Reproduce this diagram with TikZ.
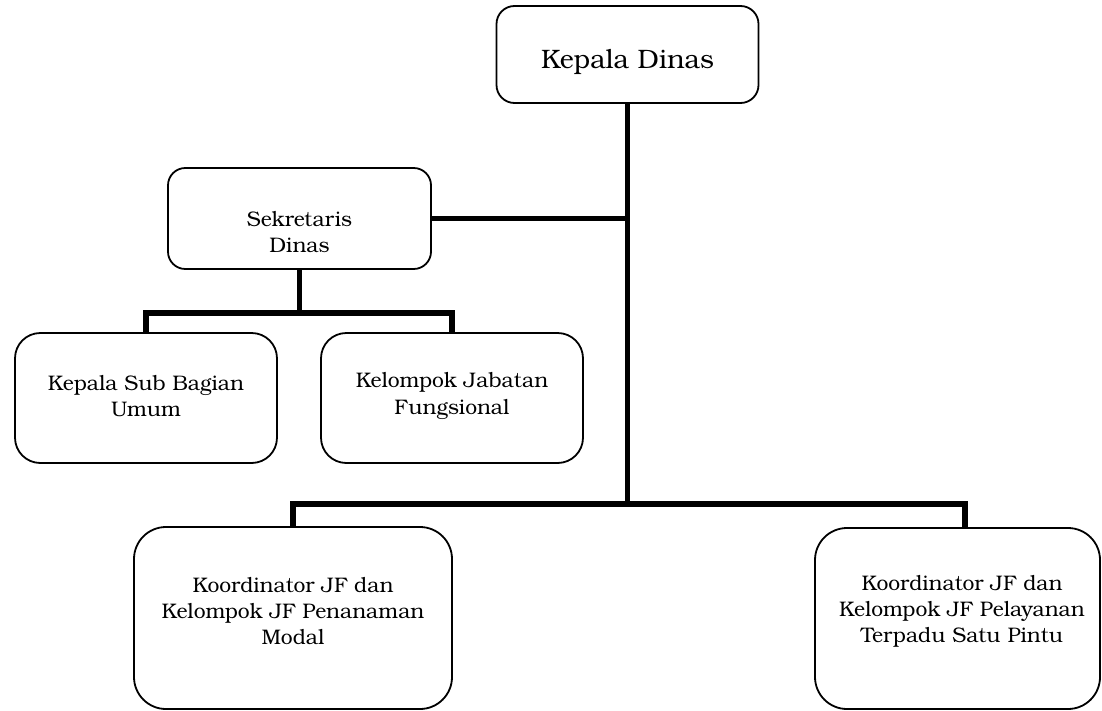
\documentclass[tikz,border=0pt]{standalone}
\usepackage{fontspec}
\setmainfont{texgyrebonum-regular.otf}
\usetikzlibrary{calc}
\begin{document}
\begin{tikzpicture}[x=0.75pt,y=-0.75pt,
  orgbox/.style={draw=black,line width=1.35pt,fill=white,rectangle,inner sep=0pt},
  conn/.style={draw=black,line width=4pt,line join=miter,line cap=butt},
  bigtext/.style={font=\fontsize{20}{24}\selectfont,align=center,inner sep=0pt},
  smalltext/.style={font=\fontsize{15.8}{19.6}\selectfont,align=center,inner sep=0pt}]
\useasboundingbox (0,0) rectangle (1102,710);

% junction points of the connector lines
\coordinate (sekbar) at (299.5,313);
\coordinate (trunkbot) at (627.5,504);

% boxes
\node[orgbox,rounded corners=13.5pt,minimum width=196.5pt,minimum height=72.75pt] (kd) at (627.5,54.5) {};
\node[orgbox,rounded corners=13pt,minimum width=197.25pt,minimum height=75.75pt] (sek) at (299.5,218.5) {};
\node[orgbox,rounded corners=19pt,minimum width=196.5pt,minimum height=97.5pt] (ksb) at (146,398) {};
\node[orgbox,rounded corners=19pt,minimum width=196.5pt,minimum height=97.5pt] (kjf) at (452,398) {};
\node[orgbox,rounded corners=24pt,minimum width=238.5pt,minimum height=136.5pt] (kpm) at (293,618) {};
\node[orgbox,rounded corners=24pt,minimum width=213.75pt,minimum height=135.75pt] (kpt) at (957.5,618.5) {};

% connectors
\draw[conn] (kd.south) -- (trunkbot);
\draw[conn] (sek.east) -- (sek.east -| kd.south);
\draw[conn] (sek.south) -- (sekbar);
\draw[conn] (ksb.north) |- (sekbar) -| (kjf.north);
\draw[conn] (kpm.north) |- (trunkbot) -| ($(kpt.north)+(7.5,0)$);

% labels
\node[bigtext] (kdt) at (627.5,62) {Kepala Dinas};
\node[smalltext] (sekt) at (299.5,232) {Sekretaris\\Dinas};
\node[smalltext] (ksbt) at (146,396) {Kepala Sub Bagian\\Umum};
\node[smalltext] (kjft) at (452,396) {Kelompok Jabatan\\Fungsional};
\node[smalltext] (kpmt) at (293,611) {Koordinator JF dan\\Kelompok JF Penanaman\\Modal};
\node[smalltext] (kptt) at (962,611) {Koordinator JF dan\\Kelompok JF Pelayanan\\Terpadu Satu Pintu};
\end{tikzpicture}
\end{document}
